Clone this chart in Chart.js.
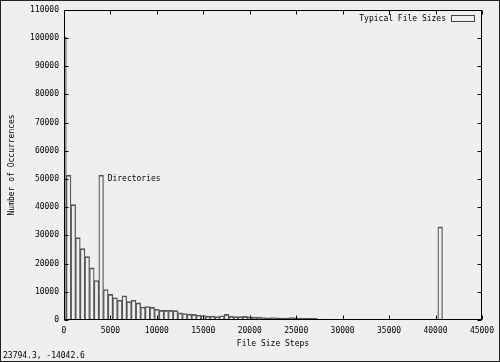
<!DOCTYPE html>
<html><head><meta charset="utf-8">
<script src="https://cdn.jsdelivr.net/npm/chart.js@4/dist/chart.umd.min.js"></script>
<style>html,body{margin:0;padding:0;background:#efefef;overflow:hidden}</style>
</head><body><canvas id="c" width="500" height="362"></canvas>
<script>
// File size bins (bin centre, bytes) and occurrence counts
const binCenters = [0,500,1000,1500,2000,2500,3000,3500,4000,4500,5000,5500,6000,6500,7000,7500,8000,8500,9000,9500,
  10000,10500,11000,11500,12000,12500,13000,13500,14000,14500,15000,15500,16000,16500,17000,17500,18000,18500,19000,19500,
  20000,20500,21000,21500,22000,22500,23000,23500,24000,24500,25000,25500,26000,26500,27000,27500,28000,28500,29000,29500,
  30000,30500,31000,31500,32000,40500];
const counts = [100400,51400,40900,29200,25300,22500,18500,14000,51400,10800,9100,7900,7000,8600,6500,7000,6100,4600,4800,4500,
  3800,3400,3400,3400,3300,2500,2300,2100,2000,1700,1600,1400,1400,1200,1500,2000,1300,1200,1200,1300,
  1100,1000,1000,900,800,900,800,700,700,900,800,700,600,700,600,300,300,200,200,200,
  150,150,100,100,100,33000];
const xTickMax = 45000, xTickStep = 5000;
const yTickMax = 110000, yTickStep = 10000;
const seriesLabel = 'Typical File Sizes';
const annotation = {text:'Directories', x:4700, y:50000};
const cornerText = '23794.3, -14042.6';

const MONO = '"DejaVu Sans Mono", "Liberation Mono", monospace';
const bars = binCenters.map((x,i)=>({x, y:counts[i]}));

const decor = {
  id:'decor',
  beforeDraw(chart){
    const {ctx,width,height} = chart;
    ctx.save();
    ctx.fillStyle='#efefef'; ctx.fillRect(0,0,width,height);
    ctx.restore();
  },
  afterDatasetsDraw(chart){
    const {ctx, chartArea:a, scales:{x,y}} = chart;
    ctx.save();
    ctx.strokeStyle='#000'; ctx.lineWidth=1;
    const L=Math.round(a.left)+0.5, R=Math.round(a.right)-0.5, T=Math.round(a.top)+0.5, B=Math.round(a.bottom)-0.5;
    ctx.strokeRect(L,T,R-L,B-T);
    const tl=4;
    ctx.beginPath();
    x.ticks.forEach((t,i)=>{
      const px=Math.round(x.getPixelForTick(i))+0.5;
      ctx.moveTo(px,B); ctx.lineTo(px,B-tl);
      ctx.moveTo(px,T); ctx.lineTo(px,T+tl);
    });
    y.ticks.forEach((t,i)=>{
      const py=Math.round(y.getPixelForTick(i))+0.5;
      ctx.moveTo(L,py); ctx.lineTo(L+tl,py);
      ctx.moveTo(R,py); ctx.lineTo(R-tl,py);
    });
    ctx.stroke();
    ctx.fillStyle='#000';
    ctx.font='8px '+MONO;
    ctx.textBaseline='middle'; ctx.textAlign='left';
    ctx.fillText(annotation.text, x.getPixelForValue(annotation.x), y.getPixelForValue(annotation.y));
    // legend (gnuplot style: text then sample box, top-right inside plot)
    const ds = chart.data.datasets[0];
    const boxR = Math.round(a.right)-8, boxL = boxR-23, boxT = Math.round(a.top)+5;
    ctx.strokeStyle='#444';
    ctx.strokeRect(boxL+0.5, boxT+0.5, 23, 6);
    ctx.textAlign='right';
    ctx.fillText(ds.label, boxL-5, boxT+3.5);
    ctx.restore();
  },
  afterDraw(chart){
    const {ctx,width,height} = chart;
    ctx.save();
    ctx.fillStyle='#000';
    ctx.font='8px '+MONO;
    ctx.textBaseline='middle'; ctx.textAlign='left';
    ctx.fillText(cornerText, 3, 356);
    ctx.strokeStyle='#222'; ctx.lineWidth=1;
    ctx.strokeRect(0.5,0.5,width-1,height-1);
    ctx.restore();
  }
};

new Chart(document.getElementById('c'), {
  type:'bar',
  data:{datasets:[{
    label: seriesLabel,
    data: bars,
    backgroundColor:'rgba(0,0,0,0)',
    borderColor:'#555',
    borderWidth:{top:1,left:0.6,right:0.6,bottom:0},
    borderSkipped:false,
    barPercentage:1, categoryPercentage:1
  }]},
  options:{
    responsive:false, animation:false, devicePixelRatio:1,
    layout:{padding:{left:0,right:17,top:6,bottom:0}},
    scales:{
      x:{type:'linear', min:0, max:xTickMax, offset:false,
        afterFit(s){ s.height=42; },
        grid:{display:false, drawTicks:false, offset:false}, border:{display:false},
        ticks:{stepSize:xTickStep, autoSkip:false, maxRotation:0, padding:6, color:'#000',
          font:{family:MONO,size:8}, callback:v=>String(v)},
        title:{display:true, text:'File Size Steps', color:'#000', font:{family:MONO,size:8}, padding:{top:0,bottom:13}}
      },
      y:{min:0, max:yTickMax,
        afterFit(s){ s.width=64; },
        grid:{display:false, drawTicks:false}, border:{display:false},
        ticks:{stepSize:yTickStep, padding:5, color:'#000', font:{family:MONO,size:8}, callback:v=>String(v)},
        title:{display:true, text:'Number of Occurrences', color:'#000', font:{family:MONO,size:8}, padding:{top:7,bottom:0}}
      }
    },
    plugins:{
      legend:{display:false},
      tooltip:{enabled:false}
    }
  },
  plugins:[decor]
});
</script></body></html>
